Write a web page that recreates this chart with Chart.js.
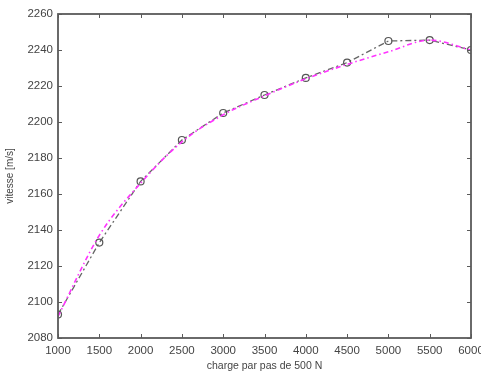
<!DOCTYPE html>
<html>
<head>
<meta charset="utf-8">
<script src="https://cdn.jsdelivr.net/npm/chart.js@4"></script>
<style>
  html, body { margin: 0; padding: 0; background: #fff; }
  #wrap { width: 481px; height: 376px; }
</style>
</head>
<body>
<div id="wrap"><canvas id="c" width="481" height="376"></canvas></div>
<script>
// Data
const loads = [1000, 1500, 2000, 2500, 3000, 3500, 4000, 4500, 5000, 5500, 6000];
const measured = [2093, 2133, 2167, 2190, 2205, 2215, 2224.5, 2233, 2245, 2245.5, 2240];
const fitted = [2092, 2137, 2166, 2189, 2204, 2214.5, 2224, 2232, 2239, 2245.5, 2240];
const xTicks = [1000, 1500, 2000, 2500, 3000, 3500, 4000, 4500, 5000, 5500, 6000];
const yTicks = [2080, 2100, 2120, 2140, 2160, 2180, 2200, 2220, 2240, 2260];

const toXY = (ys) => loads.map((x, i) => ({ x: x, y: ys[i] }));

const frameTicks = {
  id: 'frameTicks',
  afterDatasetsDraw(chart) {
    const { ctx, chartArea: a, scales } = chart;
    ctx.save();
    ctx.strokeStyle = '#5a5a5a';
    ctx.lineWidth = 1.8;
    ctx.strokeRect(a.left, a.top, a.right - a.left, a.bottom - a.top);
    ctx.lineWidth = 1;
    const L = 4;
    ctx.beginPath();
    xTicks.forEach(v => {
      const px = Math.round(scales.x.getPixelForValue(v)) + 0.5;
      ctx.moveTo(px, a.bottom); ctx.lineTo(px, a.bottom - L);
      ctx.moveTo(px, a.top); ctx.lineTo(px, a.top + L);
    });
    yTicks.forEach(v => {
      const py = Math.round(scales.y.getPixelForValue(v)) + 0.5;
      ctx.moveTo(a.left, py); ctx.lineTo(a.left + L, py);
      ctx.moveTo(a.right, py); ctx.lineTo(a.right - L, py);
    });
    ctx.stroke();
    ctx.restore();
  }
};

new Chart(document.getElementById('c'), {
  type: 'line',
  data: {
    datasets: [
      {
        label: 'fit',
        data: toXY(fitted),
        borderColor: '#ff33ff',
        borderWidth: 1.6,
        borderDash: [5, 3, 1.5, 3],
        pointRadius: 0,
        tension: 0.4,
        cubicInterpolationMode: 'monotone',
        fill: false
      },
      {
        label: 'mesure',
        data: toXY(measured),
        borderColor: '#666',
        borderWidth: 1.3,
        borderDash: [6, 3, 2, 3],
        pointRadius: 3.5,
        pointBorderColor: '#555',
        pointBorderWidth: 1.2,
        pointBackgroundColor: 'rgba(255,255,255,0)',
        tension: 0,
        fill: false
      }
    ]
  },
  options: {
    responsive: false,
    animation: false,
    devicePixelRatio: 1,
    layout: { padding: { top: 14, right: 10, left: 0, bottom: 0 } },
    plugins: { legend: { display: false }, tooltip: { enabled: false } },
    scales: {
      x: {
        type: 'linear',
        min: 1000, max: 6000,
        afterBuildTicks: (s) => { s.ticks = xTicks.map(v => ({ value: v })); },
        afterFit: (s) => { s.height = 38; s.paddingLeft = 0; s.paddingRight = 0; },
        grid: { display: false, drawTicks: false },
        border: { display: false },
        ticks: {
          padding: 6,
          color: '#444',
          font: { family: 'Liberation Sans', size: 11.5 },
          maxRotation: 0,
          callback: (v) => String(v)
        },
        title: {
          display: true,
          text: 'charge par pas de 500 N',
          color: '#444',
          font: { family: 'Liberation Sans', size: 10.5 },
          padding: { top: 0, bottom: 4 }
        }
      },
      y: {
        type: 'linear',
        min: 2080, max: 2260,
        afterBuildTicks: (s) => { s.ticks = yTicks.map(v => ({ value: v })); },
        afterFit: (s) => { s.width = 58; s.paddingTop = 0; s.paddingBottom = 0; },
        grid: { display: false, drawTicks: false },
        border: { display: false },
        ticks: {
          padding: 5,
          color: '#444',
          font: { family: 'Liberation Sans', size: 11.5 },
          callback: (v) => String(v)
        },
        title: {
          display: true,
          text: 'vitesse [m/s]',
          color: '#444',
          font: { family: 'Liberation Sans', size: 10 },
          padding: { top: 4, bottom: 0 }
        }
      }
    }
  },
  plugins: [frameTicks]
});
</script>
</body>
</html>
